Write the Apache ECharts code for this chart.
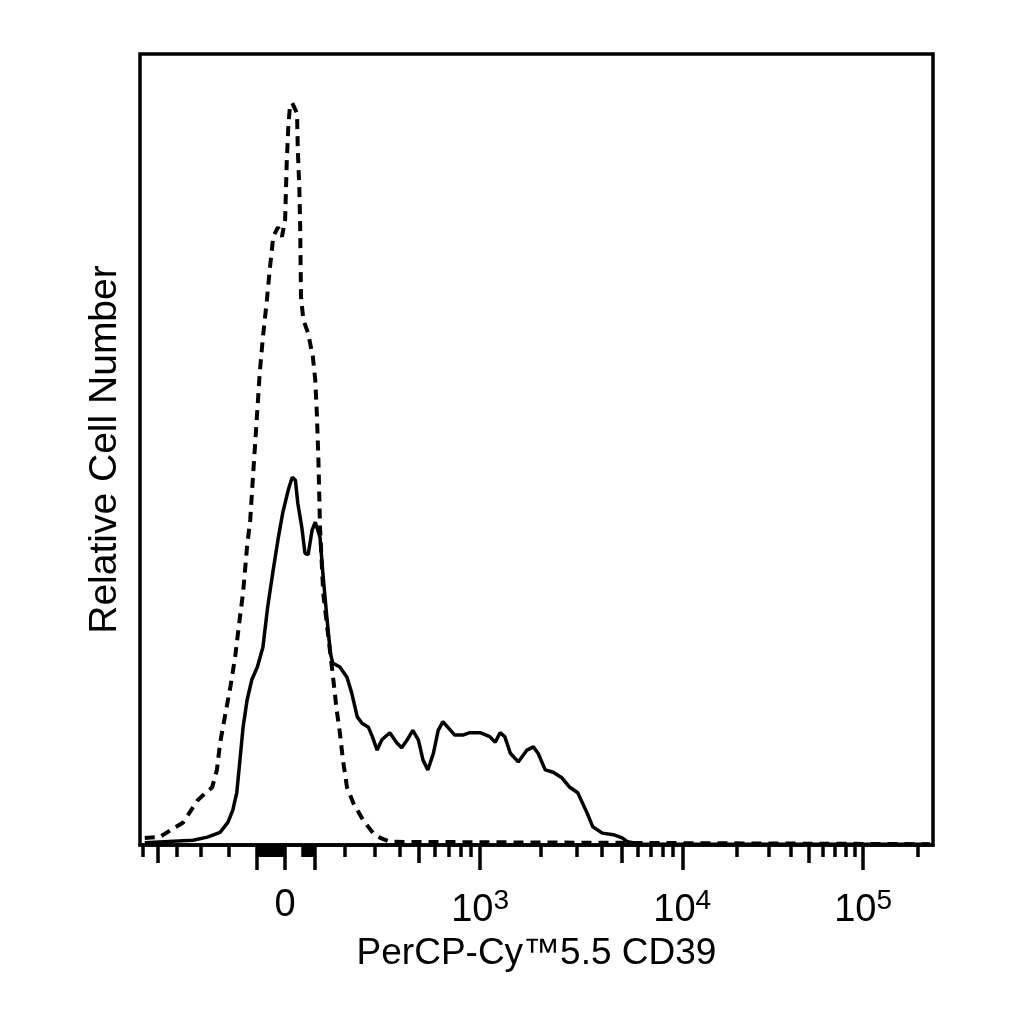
<!DOCTYPE html>
<html>
<head>
<meta charset="utf-8">
<script src="https://cdn.jsdelivr.net/npm/echarts@6/dist/echarts.min.js"></script>
<style>
  html, body { margin: 0; padding: 0; background: #fff; }
  #chart { width: 1024px; height: 1024px; }
</style>
</head>
<body>
<div id="chart"></div>
<script>
// histogram bins are in display channels (0..1000 across the plot)
var solidChannel = [6, 67, 85, 101, 111, 117, 122, 126, 130, 135, 141, 148, 155, 161, 168, 174, 180, 187, 192, 196,
  199, 204, 208, 212, 217, 221, 227, 231, 236, 240, 243, 252, 261, 267, 274, 280, 288, 293, 299, 305,
  315, 324, 330, 337, 344, 351, 357, 363, 370, 376, 382, 388, 397, 407, 416, 429, 441, 448, 454, 460,
  467, 477, 488, 496, 502, 511, 521, 532, 542, 552, 564, 571, 583, 597, 608, 615, 631, 996];
var solidCount = [0.3, 0.6, 1.0, 1.6, 2.9, 4.4, 6.6, 10.7, 14.9, 18.3, 20.9, 22.5, 25.0, 30.1, 34.8, 38.6, 42.0, 44.9, 46.5, 46.1,
  43.2, 40.2, 36.9, 36.7, 39.8, 40.8, 38.9, 33.9, 28.4, 24.3, 23.0, 22.5, 21.2, 19.2, 16.2, 15.4, 14.9, 13.7, 12.0, 13.3,
  14.2, 12.9, 12.3, 13.3, 14.5, 13.3, 10.7, 9.5, 11.6, 14.5, 15.6, 14.9, 13.9, 13.9, 14.2, 14.2, 13.7, 13.0, 14.2, 13.7,
  11.6, 10.5, 12.0, 12.4, 11.6, 9.5, 9.2, 8.5, 7.3, 6.6, 4.0, 2.3, 1.5, 1.3, 0.9, 0.4, 0.1, 0.1];

var dashChannel = [6, 25, 42, 54, 73, 91, 97, 101, 107, 114, 120, 126, 130, 135, 139, 143, 148, 151, 155, 160,
  164, 168, 174, 179, 183, 185, 187, 189, 192, 198, 199, 201, 202, 203, 206, 212, 218, 221, 223, 225,
  227, 231, 236, 242, 248, 252, 256, 261, 269, 281, 294, 303, 315, 996];
var dashCount = [0.9, 1.0, 2.1, 2.8, 5.7, 7.3, 9.5, 12.9, 16.2, 20.0, 23.8, 28.8, 31.9, 37.7, 41.1, 47.4, 55.0, 59.7, 64.2, 68.9,
  73.1, 76.9, 78.1, 76.9, 79.0, 86.2, 90.8, 93.3, 93.8, 92.5, 87.9, 82.8, 78.1, 69.3, 66.4, 64.7, 61.7, 58.8, 54.6, 48.7,
  40.2, 31.9, 27.6, 22.5, 17.1, 14.2, 10.7, 7.3, 5.3, 3.2, 1.5, 0.9, 0.4, 0.1];

// axis ticks (real intensity values)
var labelValues = [0, 1e3, 1e4, 1e5];
var labelTexts = ['0', '10{s|3}', '10{s|4}', '10{s|5}'];
var majorValues = [-100, 0, 100, 1e3, 1e4, 1e5];
var mediumValues = [-500, 500, 5e3, 5e4];
var minorValues = [-600, -400, -300, -200, -90, -80, -70, -60, -50, -40, -30, -20, -10,
  60, 70, 80, 90, 200, 300, 400, 600, 700, 800, 900,
  2e3, 3e3, 4e3, 6e3, 7e3, 8e3, 9e3, 2e4, 3e4, 4e4, 6e4, 7e4, 8e4, 9e4, 2e5];

// biexponential-like display transform: linear near zero, log above
var ZERO_CH = 183, LIN = 0.375, DECADE_LO = 255, DECADE_HI = 228, NEG_SQUEEZE = 0.95;
var V0 = DECADE_LO / (Math.LN10 * LIN);
function toChannel(v) {
  var a = Math.abs(v), d;
  if (a <= V0) d = a * LIN;
  else if (a <= 1e4) d = V0 * LIN + DECADE_LO * Math.log10(a / V0);
  else d = V0 * LIN + DECADE_LO * Math.log10(1e4 / V0) + DECADE_HI * Math.log10(a / 1e4);
  return v < 0 ? ZERO_CH - d * NEG_SQUEEZE : ZERO_CH + d;
}
function zip(xs, ys) {
  return xs.map(function (x, i) { return [x, ys[i]]; });
}

var FONT = 'Liberation Sans';
var myChart = echarts.init(document.getElementById('chart'));

function tickAxis(values, len, extra) {
  var ax = {
    type: 'value', min: 0, max: 1000, position: 'bottom', gridIndex: 0,
    axisLine: { show: false },
    splitLine: { show: false },
    axisLabel: { show: false },
    axisTick: {
      show: true, length: len,
      lineStyle: { color: '#000', width: 3.5 },
      customValues: values.map(toChannel).filter(function (c) { return c >= 0 && c <= 1000; })
    }
  };
  return Object.assign(ax, extra || {});
}

var mainAxis = tickAxis(majorValues, 25, {
  axisLine: { show: true, lineStyle: { color: '#000', width: 3.5 } },
  name: 'PerCP-Cy™5.5 CD39',
  nameLocation: 'middle',
  nameGap: 90,
  nameTextStyle: { fontFamily: FONT, fontSize: 37, color: '#000' },
  axisLabel: {
    show: true,
    margin: 42,
    customValues: labelValues.map(toChannel),
    fontFamily: FONT, fontSize: 38, color: '#000',
    formatter: function (val) {
      for (var i = 0; i < labelValues.length; i++) {
        if (Math.abs(toChannel(labelValues[i]) - val) < 0.5) return labelTexts[i];
      }
      return '';
    },
    rich: {
      s: { fontFamily: FONT, fontSize: 28, color: '#000', verticalAlign: 'bottom', padding: [0, 0, 20, 0] }
    }
  }
});

option = {
  backgroundColor: '#fff',
  animation: false,
  grid: {
    left: 140, right: 91, top: 54, bottom: 179,
    show: true, borderColor: '#000', borderWidth: 3.5, backgroundColor: '#fff'
  },
  xAxis: [mainAxis, tickAxis(mediumValues, 18), tickAxis(minorValues, 12)],
  yAxis: {
    type: 'value', min: 0, max: 100,
    axisLine: { show: false },
    axisTick: { show: false },
    axisLabel: { show: false },
    splitLine: { show: false },
    name: 'Relative Cell Number',
    nameLocation: 'middle',
    nameGap: 15,
    nameTextStyle: { fontFamily: FONT, fontSize: 39, color: '#000' }
  },
  series: [{
    name: 'control',
    type: 'line',
    data: zip(dashChannel, dashCount),
    showSymbol: false,
    silent: true,
    lineStyle: { color: '#000', width: 4, type: [10, 7] }
  }, {
    name: 'CD39',
    type: 'line',
    data: zip(solidChannel, solidCount),
    showSymbol: false,
    silent: true,
    lineStyle: { color: '#000', width: 3.5 }
  }]
};
myChart.setOption(option);
</script>
</body>
</html>
